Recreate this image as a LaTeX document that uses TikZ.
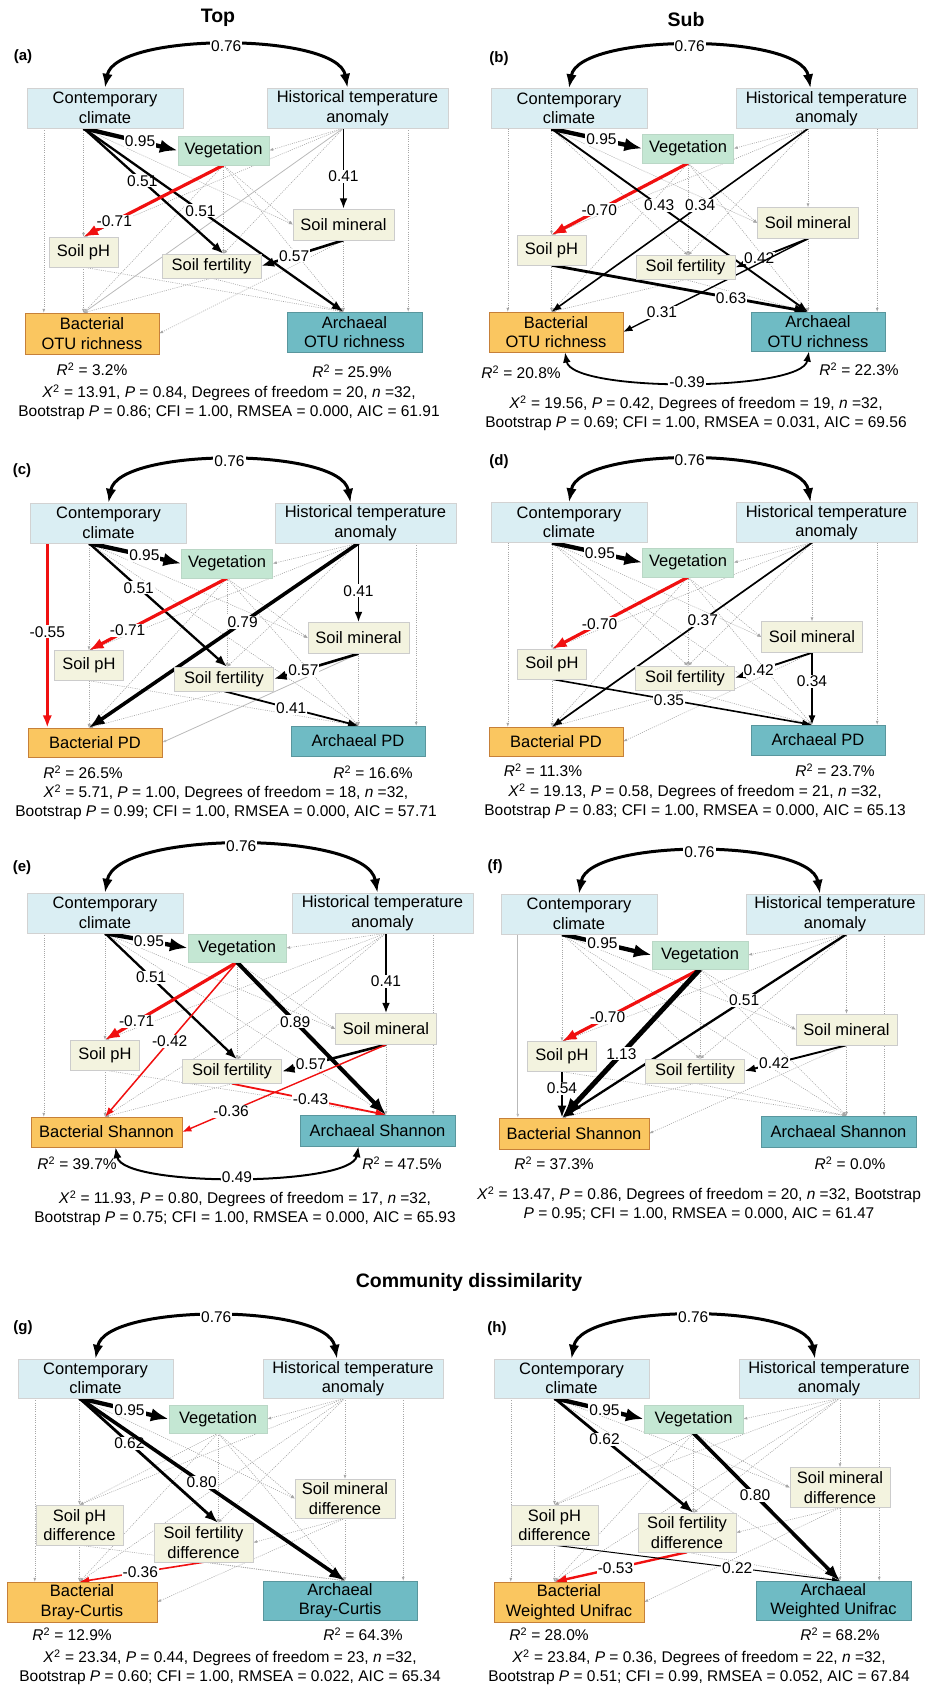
\documentclass[tikz,border=0pt]{standalone}
\usepackage{fontspec}
\setmainfont{Liberation Sans}
\usetikzlibrary{arrows.meta, positioning, calc}

\definecolor{climfill}{RGB}{218,238,243}
\definecolor{vegfill}{RGB}{196,231,211}
\definecolor{soilfill}{RGB}{243,243,223}
\definecolor{bactfill}{RGB}{250,198,96}
\definecolor{archfill}{RGB}{111,187,196}
\definecolor{negred}{RGB}{240,16,16}

\pgfdeclarelayer{bg}
\pgfsetlayers{bg,main}

\newcommand{\boxfont}{\fontsize{16.5}{19.5}\selectfont}
\newcommand{\labfont}{\fontsize{15.5}{19}\selectfont}
\newcommand{\rsq}[1]{\textit{R}\textsuperscript{2} = #1\%}
\newcommand{\chisq}{\textit{X}\textsuperscript{2}}

% anchor points shared by every path model
\newcommand{\semanchors}[1]{%
  \coordinate (#1Co) at (#1P.north |- #1C.south);
  \coordinate (#1Cl) at ([xshift=17pt]#1C.south west);
  \coordinate (#1Ho) at (#1M.north |- #1H.south);
  \coordinate (#1Hr) at ([xshift=-40pt]#1H.south east);
  \coordinate (#1Vo) at (#1V.south);
  \coordinate (#1Vl) at (#1V.west);
  \coordinate (#1Vr) at (#1V.east);
  \coordinate (#1Mi) at (#1M.west);
  \coordinate (#1Mt) at (#1M.north);
  \coordinate (#1Mo) at (#1M.south);
  \coordinate (#1Pi) at (#1P.north);
  \coordinate (#1Po) at (#1P.south);
  \coordinate (#1Fi) at (#1V.south |- #1F.north);
  \coordinate (#1Fr) at (#1F.east);
  \coordinate (#1Fo) at (#1F.south);
  \coordinate (#1Bi) at (#1P.south |- #1B.north);
  \coordinate (#1Bl) at (#1Cl |- #1B.north);
  \coordinate (#1Br) at (#1B.east);
  \coordinate (#1Ai) at (#1M.south |- #1A.north);
  \coordinate (#1Ar) at (#1Hr |- #1A.north);
}
% non-significant paths
\newcommand{\nspaths}[2]{\foreach \s/\t in {#2} {\draw[ns] (#1\s) -- (#1\t);}}

\tikzset{
  clim/.style={draw=gray!35, fill=climfill, minimum height=40pt, inner sep=0pt, align=center, font=\boxfont},
  climC/.style={clim, minimum width=156pt},
  climH/.style={clim, minimum width=181pt},
  veg/.style={draw=vegfill!85!gray, fill=vegfill, minimum width=91pt, minimum height=29pt, inner sep=0pt, font=\boxfont},
  soil/.style={draw=gray!40, fill=soilfill, inner sep=0pt, align=center, font=\boxfont},
  soilM/.style={soil, minimum width=101pt, minimum height=31pt},
  soilP/.style={soil, minimum width=69pt, minimum height=30pt},
  soilF/.style={soil, minimum width=99pt, minimum height=24pt},
  bact/.style={draw=orange!55!gray, fill=bactfill, inner sep=0pt, align=center, font=\boxfont},
  arch/.style={draw=archfill!80!black, fill=archfill, inner sep=0pt, align=center, font=\boxfont},
  lab/.style={fill=white, inner sep=1pt, font=\labfont, text=black},
  stat/.style={align=center, font=\labfont},
  tag/.style={font=\bfseries\fontsize{15}{18}\selectfont},
  head/.style={font=\bfseries\fontsize{19.5}{22}\selectfont},
  ns/.style={draw=gray!70, line width=0.6pt, dash pattern=on 1pt off 1.2pt, -{Latex[length=4pt,width=3pt]}},
  nsg/.style={draw=gray!55, line width=0.8pt, -{Latex[length=4pt,width=3pt]}},
  sig/.style={draw=black, line width=#1, -{Latex[length=5pt 3]}},
  sigred/.style={draw=negred, line width=#1, -{Latex[length=5pt 3]}},
  corr/.style={draw=black, line width=#1, {Latex[length=5pt 3]}-{Latex[length=5pt 3]}},
}

\begin{document}
\begin{tikzpicture}[x=1pt, y=-1pt]
\useasboundingbox (0,0) rectangle (924,1686);

% ---------------- (a) Top, OTU richness
\node[head] (topT) at (218,18) {Top};
\node[tag] (aT) at (23,57) {(a)};
\node[climC] (aC) at (105,108) {Contemporary\\climate};
\node[climH] (aH) at (357.5,108) {Historical temperature\\anomaly};
\node[veg] (aV) at (223.5,150.5) {Vegetation};
\node[soilM] (aM) at (343.5,224.5) {Soil mineral};
\node[soilP] (aP) at (83.5,252) {Soil pH};
\node[soilF] (aF) at (211.5,266) {Soil fertility};
\node[bact, minimum width=134pt, minimum height=41pt] (aB) at (92,333.5) {Bacterial\\OTU richness};
\node[arch, minimum width=135pt, minimum height=40pt] (aA) at (354.5,332) {Archaeal\\OTU richness};
\node[stat] (aRB) at (92,369) {\rsq{3.2}};
\node[stat] (aRA) at (352,371) {\rsq{25.9}};
\node[stat] (aS) at (229,402.5) {\chisq{} = 13.91, \textit{P} = 0.84, Degrees of freedom = 20, \textit{n} =32,\\Bootstrap \textit{P} = 0.86; CFI = 1.00, RMSEA = 0.000, AIC = 61.91};
\semanchors{a}
\begin{pgfonlayer}{bg}
  \nspaths{a}{Ho/Vr, Co/Mi, Vo/Mi, Co/Pi, Ho/Pi, Vo/Fi, Ho/Fi, Cl/Bl, Vo/Bi, Mo/Br, Po/Bi, Fo/Bi, Hr/Ar, Vo/Ai, Mo/Ai, Po/Ai, Fo/Ai}
  \draw[nsg] (aHo) -- (aBi);
  \draw[corr=3pt] (aC.north) to[out=80, in=100, looseness=0.6] node[lab] (aL0) {0.76} ([xshift=-10pt]aH.north);
  \draw[sig=4.3pt] (aCo) -- node[lab, pos=.6] (aL1) {0.95} (aVl);
  \draw[sig=2.3pt] (aCo) -- node[lab, pos=.42] (aL2) {0.51} (aFi);
  \draw[sig=2.3pt] (aCo) -- node[lab, pos=.45] (aL3) {0.51} (aAi);
  \draw[sigred=3.2pt] (aVo) -- node[lab, pos=.78] (aL4) {-0.71} (aPi);
  \draw[sig=1.8pt] (aHo) -- node[lab, pos=.6] (aL5) {0.41} (aMt);
  \draw[sig=2.6pt] (aMo) -- node[lab, pos=.6] (aL6) {0.57} (aFr);
\end{pgfonlayer}

% ---------------- (b) Sub, OTU richness
\node[head] (subT) at (686,20) {Sub};
\node[tag] (bT) at (499,59) {(b)};
\node[climC] (bC) at (569,108.5) {Contemporary\\climate};
\node[climH] (bH) at (826.5,108.5) {Historical temperature\\anomaly};
\node[veg] (bV) at (688,148.5) {Vegetation};
\node[soilM] (bM) at (808,223) {Soil mineral};
\node[soilP] (bP) at (551.5,250) {Soil pH};
\node[soilF] (bF) at (685.5,267.5) {Soil fertility};
\node[bact, minimum width=134pt, minimum height=40pt] (bB) at (556,332) {Bacterial\\OTU richness};
\node[arch, minimum width=134pt, minimum height=39pt] (bA) at (818,331.5) {Archaeal\\OTU richness};
\node[stat] (bRB) at (521,372) {\rsq{20.8}};
\node[stat] (bRA) at (859,369) {\rsq{22.3}};
\node[stat] (bS) at (696,413.5) {\chisq{} = 19.56, \textit{P} = 0.42, Degrees of freedom = 19, \textit{n} =32,\\Bootstrap \textit{P} = 0.69; CFI = 1.00, RMSEA = 0.031, AIC = 69.56};
\semanchors{b}
\begin{pgfonlayer}{bg}
  \nspaths{b}{Ho/Vr, Co/Mi, Ho/Mt, Vo/Mi, Co/Pi, Ho/Pi, Co/Fi, Ho/Fi, Vo/Fi, Cl/Bl, Vo/Bi, Po/Bi, Fo/Bi, Hr/Ar, Vo/Ai, Mo/Ai, Fo/Ai}
  \draw[corr=3pt] (bC.north) to[out=80, in=100, looseness=0.6] node[lab] (bL0) {0.76} ([xshift=-16pt]bH.north);
  \draw[sig=4.3pt] (bCo) -- node[lab, pos=.55] (bL1) {0.95} (bVl);
  \draw[sigred=3.2pt] (bVo) -- node[lab, pos=.65] (bL2) {-0.70} (bPi);
  \draw[sig=1.9pt] (bCo) -- node[lab, pos=.42] (bL3) {0.43} (bAi);
  \draw[sig=1.6pt] (bHo) -- node[lab, pos=.42] (bL4) {0.34} (bBi);
  \draw[sig=1.9pt] (bMo) -- node[lab, pos=.67] (bL5) {0.42} (bFr);
  \draw[sig=1.4pt] (bMo) -- node[lab, pos=.79] (bL6) {0.31} (bBr);
  \draw[sig=2.8pt] (bPo) -- node[lab, pos=.7] (bL7) {0.63} (bAi);
  \draw[corr=1.8pt] ([xshift=9pt]bB.south) to[out=-80, in=-100, looseness=0.43] node[lab] (bL8) {-0.39} ([xshift=-9pt]bA.south);
\end{pgfonlayer}

% ---------------- (c) Top, PD
\node[tag] (cT) at (22,471) {(c)};
\node[climC] (cC) at (108.5,523) {Contemporary\\climate};
\node[climH] (cH) at (365.5,523) {Historical temperature\\anomaly};
\node[veg] (cV) at (227,563.5) {Vegetation};
\node[soilM] (cM) at (358.5,638) {Soil mineral};
\node[soilP] (cP) at (89,665.5) {Soil pH};
\node[soilF] (cF) at (224,679) {Soil fertility};
\node[bact, minimum width=134pt, minimum height=29pt] (cB) at (95,742.5) {Bacterial PD};
\node[arch, minimum width=134pt, minimum height=30pt] (cA) at (358,741) {Archaeal PD};
\node[stat] (cRB) at (83,772) {\rsq{26.5}};
\node[stat] (cRA) at (373,772) {\rsq{16.6}};
\node[stat] (cS) at (226,802.5) {\chisq{} = 5.71, \textit{P} = 1.00, Degrees of freedom = 18, \textit{n} =32,\\Bootstrap \textit{P} = 0.99; CFI = 1.00, RMSEA = 0.000, AIC = 57.71};
\semanchors{c}
\begin{pgfonlayer}{bg}
  \nspaths{c}{Ho/Vr, Co/Mi, Vo/Mi, Co/Pi, Ho/Pi, Ho/Fi, Vo/Fi, Vo/Bi, Po/Bi, Fo/Bi, Co/Ai, Hr/Ar, Vo/Ai, Mo/Ai, Po/Ai}
  \draw[nsg] (cMo) -- (cBr);
  \draw[corr=3pt] (cC.north) to[out=80, in=100, looseness=0.6] node[lab] (cL0) {0.76} ([xshift=-15pt]cH.north);
  \draw[sig=4.3pt] (cCo) -- node[lab, pos=.6] (cL1) {0.95} (cVl);
  \draw[sig=2.3pt] (cCo) -- node[lab, pos=.36] (cL2) {0.51} (cFi);
  \draw[sigred=3.2pt] (cVo) -- node[lab, pos=.72] (cL3) {-0.71} (cPi);
  \draw[sigred=2.5pt] (cCl) -- node[lab, pos=.48] (cL4) {-0.55} (cBl);
  \draw[sig=3.6pt] (cHo) -- node[lab, pos=.43] (cL5) {0.79} (cBi);
  \draw[sig=1.8pt] (cHo) -- node[lab, pos=.6] (cL6) {0.41} (cMt);
  \draw[sig=2.6pt] (cMo) -- node[lab, pos=.65] (cL7) {0.57} (cFr);
  \draw[sig=1.8pt] (cFo) -- node[lab, pos=.5] (cL8) {0.41} (cAi);
\end{pgfonlayer}

% ---------------- (d) Sub, PD
\node[tag] (dT) at (499,462) {(d)};
\node[climC] (dC) at (569,522.5) {Contemporary\\climate};
\node[climH] (dH) at (826.5,522.5) {Historical temperature\\anomaly};
\node[veg] (dV) at (688,562.5) {Vegetation};
\node[soilM] (dM) at (812,637) {Soil mineral};
\node[soilP] (dP) at (552,664) {Soil pH};
\node[soilF] (dF) at (685,678) {Soil fertility};
\node[bact, minimum width=134pt, minimum height=29pt] (dB) at (556,741.5) {Bacterial PD};
\node[arch, minimum width=134pt, minimum height=30pt] (dA) at (818,740) {Archaeal PD};
\node[stat] (dRB) at (543,770) {\rsq{11.3}};
\node[stat] (dRA) at (835,770) {\rsq{23.7}};
\node[stat] (dS) at (695,801.5) {\chisq{} = 19.13, \textit{P} = 0.58, Degrees of freedom = 21, \textit{n} =32,\\Bootstrap \textit{P} = 0.83; CFI = 1.00, RMSEA = 0.000, AIC = 65.13};
\semanchors{d}
\begin{pgfonlayer}{bg}
  \nspaths{d}{Ho/Vr, Co/Mi, Ho/Mt, Vo/Mi, Co/Pi, Ho/Pi, Co/Fi, Ho/Fi, Vo/Fi, Cl/Bl, Vo/Bi, Mo/Br, Po/Bi, Fo/Bi, Co/Ai, Hr/Ar, Vo/Ai, Fo/Ai}
  \draw[corr=3pt] (dC.north) to[out=80, in=100, looseness=0.6] node[lab] (dL0) {0.76} ([xshift=-16pt]dH.north);
  \draw[sig=4.3pt] (dCo) -- node[lab, pos=.53] (dL1) {0.95} (dVl);
  \draw[sigred=3.2pt] (dVo) -- node[lab, pos=.65] (dL2) {-0.70} (dPi);
  \draw[sig=1.7pt] (dHo) -- node[lab, pos=.42] (dL3) {0.37} (dBi);
  \draw[sig=1.9pt] (dMo) -- node[lab, pos=.69] (dL4) {0.42} (dFr);
  \draw[sig=1.5pt] (dMo) -- node[lab, pos=.4] (dL5) {0.34} (dAi);
  \draw[sig=1.6pt] (dPo) -- node[lab, pos=.45] (dL6) {0.35} (dAi);
\end{pgfonlayer}

% ---------------- (e) Top, Shannon
\node[tag] (eT) at (22,868) {(e)};
\node[climC] (eC) at (105,913) {Contemporary\\climate};
\node[climH] (eH) at (382.5,913) {Historical temperature\\anomaly};
\node[veg, minimum width=98pt, minimum height=28pt] (eV) at (237,948) {Vegetation};
\node[soilM] (eM) at (386,1029) {Soil mineral};
\node[soilP] (eP) at (105,1055) {Soil pH};
\node[soilF] (eF) at (232,1071.5) {Soil fertility};
\node[bact, minimum width=151pt, minimum height=30pt] (eB) at (106.5,1132) {Bacterial Shannon};
\node[arch, minimum width=155pt, minimum height=31pt] (eA) at (377.5,1130.5) {Archaeal Shannon};
\node[stat] (eRB) at (77,1163) {\rsq{39.7}};
\node[stat] (eRA) at (402,1163) {\rsq{47.5}};
\node[stat] (eS) at (245,1208) {\chisq{} = 11.93, \textit{P} = 0.80, Degrees of freedom = 17, \textit{n} =32,\\Bootstrap \textit{P} = 0.75; CFI = 1.00, RMSEA = 0.000, AIC = 65.93};
\semanchors{e}
\begin{pgfonlayer}{bg}
  \nspaths{e}{Ho/Vr, Co/Mi, Vo/Mi, Co/Pi, Ho/Pi, Ho/Fi, Vo/Fi, Cl/Bl, Ho/Bi, Po/Bi, Fo/Bi, Co/Ai, Hr/Ar, Mo/Ai, Po/Ai}
  \draw[corr=3pt] (eC.north) to[out=80, in=100, looseness=0.6] node[lab] (eL0) {0.76} ([xshift=-5pt]eH.north);
  \draw[sig=4.3pt] (eCo) -- node[lab, pos=.53] (eL1) {0.95} (eVl);
  \draw[sig=2.3pt] (eCo) -- node[lab, pos=.35] (eL2) {0.51} (eFi);
  \draw[sigred=3.2pt] (eVo) -- node[lab, pos=.76] (eL3) {-0.71} (ePi);
  \draw[sigred=1.5pt] (eVo) -- node[lab, pos=.51] (eL4) {-0.42} (eBi);
  \draw[sig=4pt] (eVo) -- node[lab, pos=.39] (eL5) {0.89} (eAi);
  \draw[sig=1.8pt] (eHo) -- node[lab, pos=.6] (eL6) {0.41} (eMt);
  \draw[sig=2.6pt] (eMo) -- node[lab, pos=.72] (eL7) {0.57} (eFr);
  \draw[sigred=1.4pt] (eMo) -- node[lab, pos=.76] (eL8) {-0.36} (eBr);
  \draw[sigred=1.8pt] (eFo) -- node[lab, pos=.51] (eL9) {-0.43} (eAi);
  \draw[corr=2pt] ([xshift=9pt]eB.south) to[out=-80, in=-100, looseness=0.43] node[lab] (eL10) {0.49} ([xshift=-19pt]eA.south);
\end{pgfonlayer}

% ---------------- (f) Sub, Shannon
\node[tag] (fT) at (495,867) {(f)};
\node[climC] (fC) at (579,914) {Contemporary\\climate};
\node[clim, minimum width=178pt] (fH) at (835,914) {Historical temperature\\anomaly};
\node[veg, minimum width=96pt, minimum height=28pt] (fV) at (700,955) {Vegetation};
\node[soilM] (fM) at (846.5,1029.5) {Soil mineral};
\node[soilP] (fP) at (562,1056.5) {Soil pH};
\node[soilF] (fF) at (695,1071) {Soil fertility};
\node[bact, minimum width=150pt, minimum height=31pt] (fB) at (574,1133.5) {Bacterial Shannon};
\node[arch, minimum width=155pt, minimum height=31pt] (fA) at (838.5,1131.5) {Archaeal Shannon};
\node[stat] (fRB) at (554,1163) {\rsq{37.3}};
\node[stat] (fRA) at (850,1163) {\rsq{0.0}};
\node[stat] (fS) at (699,1204) {\chisq{} = 13.47, \textit{P} = 0.86, Degrees of freedom = 20, \textit{n} =32, Bootstrap\\\textit{P} = 0.95; CFI = 1.00, RMSEA = 0.000, AIC = 61.47};
\semanchors{f}
\begin{pgfonlayer}{bg}
  \nspaths{f}{Ho/Vr, Co/Mi, Ho/Mt, Vo/Mi, Co/Pi, Ho/Pi, Co/Fi, Ho/Fi, Vo/Fi, Mo/Br, Fo/Bi, Co/Ai, Hr/Ar, Vo/Ai, Mo/Ai, Po/Ai, Fo/Ai}
  \draw[nsg] (fCl) -- (fBl);
  \draw[corr=3pt] (fC.north) to[out=80, in=100, looseness=0.6] node[lab] (fL0) {0.76} ([xshift=-15pt]fH.north);
  \draw[sig=4.3pt] (fCo) -- node[lab, pos=.45] (fL1) {0.95} (fVl);
  \draw[sigred=3.2pt] (fVo) -- node[lab, pos=.67] (fL2) {-0.70} (fPi);
  \draw[sig=5pt] (fVo) -- node[lab, pos=.57] (fL3) {1.13} (fBi);
  \draw[sig=2.3pt] (fHo) -- node[lab, pos=.36] (fL4) {0.51} (fBi);
  \draw[sig=2.4pt] (fPo) -- node[lab, pos=.36] (fL5) {0.54} (fBi);
  \draw[sig=1.9pt] (fMo) -- node[lab, pos=.71] (fL6) {0.42} (fFr);
\end{pgfonlayer}

% ---------------- (g) Community dissimilarity, Bray-Curtis
\node[head] (comT) at (469,1282) {Community dissimilarity};
\node[tag] (gT) at (23,1328) {(g)};
\node[clim, minimum width=155pt, minimum height=39pt] (gC) at (95.5,1378.5) {Contemporary\\climate};
\node[clim, minimum width=180pt, minimum height=39pt] (gH) at (353,1378.5) {Historical temperature\\anomaly};
\node[veg, minimum width=98pt, minimum height=28pt] (gV) at (218,1419) {Vegetation};
\node[soil, minimum width=100pt, minimum height=39pt] (gM) at (345,1498.5) {Soil mineral\\difference};
\node[soil, minimum width=87pt, minimum height=40pt] (gP) at (79.5,1525) {Soil pH\\difference};
\node[soil, minimum width=99pt, minimum height=39pt] (gF) at (203.5,1542.5) {Soil fertility\\difference};
\node[bact, minimum width=150pt, minimum height=40pt] (gB) at (82,1602) {Bacterial\\Bray-Curtis};
\node[arch, minimum width=154pt, minimum height=39pt] (gA) at (340,1600.5) {Archaeal\\Bray-Curtis};
\node[stat] (gRB) at (72,1634) {\rsq{12.9}};
\node[stat] (gRA) at (363,1634) {\rsq{64.3}};
\node[stat] (gS) at (230,1667) {\chisq{} = 23.34, \textit{P} = 0.44, Degrees of freedom = 23, \textit{n} =32,\\Bootstrap \textit{P} = 0.60; CFI = 1.00, RMSEA = 0.022, AIC = 65.34};
\semanchors{g}
\begin{pgfonlayer}{bg}
  \nspaths{g}{Ho/Vr, Co/Mi, Ho/Mt, Vo/Mi, Co/Pi, Ho/Pi, Vo/Pi, Ho/Fi, Vo/Fi, Mo/Fr, Cl/Bl, Ho/Bi, Vo/Bi, Mo/Br, Po/Bi, Hr/Ar, Vo/Ai, Mo/Ai, Po/Ai, Fo/Ai}
  \draw[corr=3pt] (gC.north) to[out=80, in=100, looseness=0.6] node[lab] (gL0) {0.76} ([xshift=-16pt]gH.north);
  \draw[sig=4.3pt] (gCo) -- node[lab, pos=.56] (gL1) {0.95} (gVl);
  \draw[sig=2.8pt] (gCo) -- node[lab, pos=.36] (gL2) {0.62} (gFi);
  \draw[sig=3.6pt] (gCo) -- node[lab, pos=.46] (gL3) {0.80} (gAi);
  \draw[sigred=1.6pt] (gFo) -- node[lab, pos=.51] (gL4) {-0.36} (gBi);
\end{pgfonlayer}

% ---------------- (h) Community dissimilarity, Weighted Unifrac
\node[tag] (hT) at (497,1329) {(h)};
\node[clim, minimum width=155pt, minimum height=39pt] (hC) at (571.5,1378.5) {Contemporary\\climate};
\node[clim, minimum width=180pt, minimum height=39pt] (hH) at (829,1378.5) {Historical temperature\\anomaly};
\node[veg, minimum width=99pt, minimum height=28pt] (hV) at (693.5,1419) {Vegetation};
\node[soil, minimum width=100pt, minimum height=40pt] (hM) at (840,1487.5) {Soil mineral\\difference};
\node[soil, minimum width=87pt, minimum height=40pt] (hP) at (554.5,1525) {Soil pH\\difference};
\node[soil, minimum width=98pt, minimum height=39pt] (hF) at (687,1532.5) {Soil fertility\\difference};
\node[bact, minimum width=150pt, minimum height=40pt] (hB) at (569,1602) {Bacterial\\Weighted Unifrac};
\node[arch, minimum width=155pt, minimum height=39pt] (hA) at (833.5,1600.5) {Archaeal\\Weighted Unifrac};
\node[stat] (hRB) at (549,1634) {\rsq{28.0}};
\node[stat] (hRA) at (840,1634) {\rsq{68.2}};
\node[stat] (hS) at (699,1667) {\chisq{} = 23.84, \textit{P} = 0.36, Degrees of freedom = 22, \textit{n} =32,\\Bootstrap \textit{P} = 0.51; CFI = 0.99, RMSEA = 0.052, AIC = 67.84};
\semanchors{h}
\begin{pgfonlayer}{bg}
  \nspaths{h}{Ho/Vr, Co/Mi, Ho/Mt, Vo/Mi, Co/Pi, Ho/Pi, Vo/Pi, Ho/Fi, Vo/Fi, Mo/Fr, Cl/Bl, Ho/Bi, Vo/Bi, Mo/Br, Po/Bi, Co/Ai, Hr/Ar, Mo/Ai, Fo/Ai}
  \draw[corr=3pt] (hC.north) to[out=80, in=100, looseness=0.6] node[lab] (hL0) {0.76} ([xshift=-14pt]hH.north);
  \draw[sig=4.3pt] (hCo) -- node[lab, pos=.56] (hL1) {0.95} (hVl);
  \draw[sig=2.8pt] (hCo) -- node[lab, pos=.36] (hL2) {0.62} (hFi);
  \draw[sig=3.6pt] (hVo) -- node[lab, pos=.42] (hL3) {0.80} (hAi);
  \draw[sigred=2.4pt] (hFo) -- node[lab, pos=.54] (hL4) {-0.53} (hBi);
  \draw[sig=1pt] (hPo) -- node[lab, pos=.64] (hL5) {0.22} (hAi);
\end{pgfonlayer}
\end{tikzpicture}
\end{document}
